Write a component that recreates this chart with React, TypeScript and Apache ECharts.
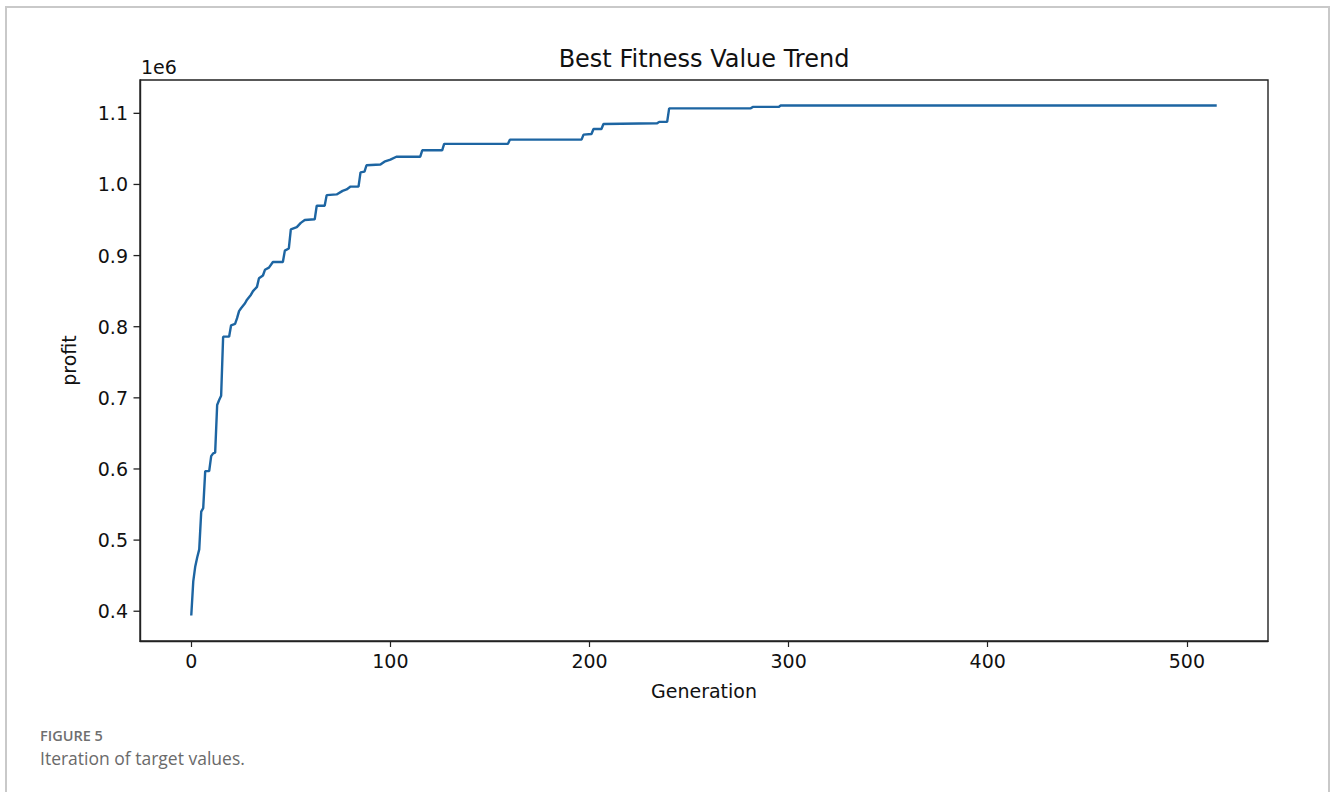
import React, { useEffect, useRef } from "react";
import * as echarts from "echarts";

// Vertices of the best-fitness curve (generation, profit)
const generations = [
  0, 1, 2, 3, 4, 5, 6, 7, 9, 10, 11, 12, 13, 14, 15, 16, 19, 20, 22, 23, 24, 25, 27, 28, 30, 31,
  33, 34, 36, 37, 39, 41, 46, 47, 49, 50, 53, 55, 57, 62, 63, 67, 68, 73, 76, 78, 80, 84, 85, 87,
  88, 95, 97, 100, 103, 115, 116, 126, 127, 159, 160, 196, 197, 201, 202, 206, 207, 234, 235, 239,
  240, 281, 282, 295, 296, 515,
];
const profits = [
  394000, 442000, 463000, 476000, 487000, 540000, 545000, 597000, 597000, 618000, 622000, 623000,
  690000, 697000, 703000, 786000, 786000, 802000, 804000, 812000, 822000, 826000, 833000, 838000,
  845000, 850000, 856000, 868000, 872000, 880000, 883000, 891000, 891000, 907000, 910000, 937000,
  940000, 946000, 950000, 951000, 970000, 970000, 985000, 986000, 991000, 993000, 997000, 997000,
  1017000, 1018000, 1027000, 1028000, 1032000, 1035000, 1039000, 1039000, 1048000, 1048000,
  1057000, 1057000, 1063000, 1063000, 1070000, 1071000, 1078000, 1078000, 1085000, 1086000,
  1088000, 1088000, 1107000, 1107000, 1109000, 1109000, 1111000, 1111000,
];
const xTicks = [0, 100, 200, 300, 400, 500];
const yTicks = [400000, 500000, 600000, 700000, 800000, 900000, 1000000, 1100000];

const titleText = "Best Fitness Value Trend";
const xName = "Generation";
const yName = "profit";
const offsetText = "1e6";
const figLabel = "FIGURE 5";
const figCaption = "Iteration of target values.";

const FONT = "DejaVu Sans";

export default function App() {
  const ref = useRef<HTMLDivElement>(null);
  useEffect(() => {
    if (!ref.current) return;
    const chart = echarts.init(ref.current, null, { renderer: "svg" });
    const data = generations.map((g, i) => [g, profits[i]]);
    const dMin = Math.min(...profits);
    const dMax = Math.max(...profits);
    const yPad = (dMax - dMin) * 0.05;
    const gMin = Math.min(...generations);
    const gMax = Math.max(...generations);
    const xPad = (gMax - gMin) * 0.05;
    const xLo = gMin - xPad;
    const spine = { color: "#222222", width: 1.4 };
    const baseGraphic: any[] = [
      {
        type: "rect",
        shape: { x: 6, y: 7, width: 1323, height: 820 },
        style: { fill: "none", stroke: "#c9c9c9", lineWidth: 2 },
        silent: true,
      },
      {
        type: "text",
        x: 704,
        y: 59,
        style: {
          text: titleText,
          textAlign: "center",
          textVerticalAlign: "middle",
          fontFamily: FONT,
          fontSize: 24,
          fill: "#111",
        },
      },
      {
        type: "text",
        x: 141,
        y: 67,
        style: {
          text: offsetText,
          textAlign: "left",
          textVerticalAlign: "middle",
          fontFamily: FONT,
          fontSize: 19,
          fill: "#111",
        },
      },
      {
        type: "text",
        x: 40,
        y: 735,
        style: {
          text: figLabel,
          textAlign: "left",
          textVerticalAlign: "middle",
          fontFamily: "Open Sans",
          fontSize: 14.5,
          fontWeight: 600,
          fill: "#6f6f6f",
        },
      },
      {
        type: "text",
        x: 40,
        y: 758,
        style: {
          text: figCaption,
          textAlign: "left",
          textVerticalAlign: "middle",
          fontFamily: "Open Sans",
          fontSize: 17.5,
          fill: "#6a6a6a",
        },
      },
    ];
    chart.setOption({
      animation: false,
      backgroundColor: "#ffffff",
      grid: {
        left: 140,
        top: 80,
        right: 62,
        bottom: 151,
        show: true,
        borderColor: "#222222",
        borderWidth: 1.4,
        backgroundColor: "transparent",
      },
      xAxis: {
        type: "value",
        position: "bottom",
        min: xLo,
        max: gMax + xPad,
        name: xName,
        nameLocation: "middle",
        nameGap: 40,
        nameTextStyle: { fontFamily: FONT, fontSize: 19, color: "#111" },
        axisLine: { show: true, onZero: false, lineStyle: spine },
        splitLine: { show: false },
        axisTick: {
          show: true,
          inside: false,
          length: 6,
          customValues: xTicks,
          lineStyle: { color: "#222", width: 1.2 },
        },
        axisLabel: {
          customValues: xTicks,
          margin: 10,
          fontFamily: FONT,
          fontSize: 19,
          color: "#111",
        },
      },
      yAxis: {
        type: "value",
        position: "left",
        min: dMin - yPad,
        max: dMax + yPad,
        name: yName,
        nameLocation: "middle",
        nameGap: 62,
        nameRotate: 90,
        nameTextStyle: { fontFamily: FONT, fontSize: 19, color: "#111" },
        axisLine: { show: true, onZero: false, lineStyle: spine },
        splitLine: { show: false },
        axisTick: { show: false },
        axisLabel: {
          customValues: yTicks,
          margin: 12,
          fontFamily: FONT,
          fontSize: 19,
          color: "#111",
          formatter: (v: number) => (v / 1e6).toFixed(1),
        },
      },
      series: [
        {
          type: "line",
          data,
          showSymbol: false,
          lineStyle: { color: "#1d65a2", width: 2.4 },
          itemStyle: { color: "#1d65a2" },
        },
      ],
      graphic: baseGraphic,
    });
    // y-axis tick marks placed through the chart's own scale
    const tickGraphic = yTicks.map((v) => {
      const p = chart.convertToPixel({ gridIndex: 0 }, [xLo, v]) as number[];
      return {
        type: "line",
        silent: true,
        z: 100,
        shape: { x1: p[0] - 6.5, y1: p[1], x2: p[0], y2: p[1] },
        style: { stroke: "#222222", lineWidth: 1.3 },
      };
    });
    chart.setOption({ graphic: [...baseGraphic, ...tickGraphic] });
    return () => chart.dispose();
  }, []);
  return (
    <div
      ref={ref}
      style={{ position: "fixed", left: 0, top: 0, width: 1330, height: 792, background: "#fff" }}
    />
  );
}
